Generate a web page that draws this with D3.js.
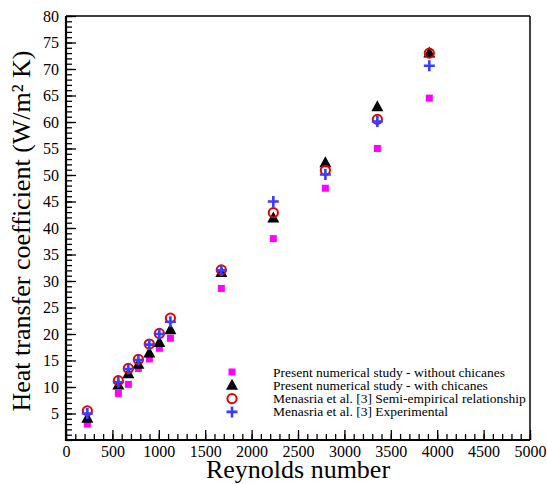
<!DOCTYPE html>
<html>
<head>
<meta charset="utf-8">
<script src="https://cdn.jsdelivr.net/npm/d3@7"></script>
<style>
  body { margin: 0; background: #fff; }
  text { font-family: "Liberation Serif", "Times New Roman", serif; }
</style>
</head>
<body>
<div id="chart"></div>
<script>
// Data
var reynolds = [230, 564, 672, 780, 898, 1006, 1125, 1674, 2234, 2795, 3355, 3915];
var withoutChicanes = [3.0, 8.8, 10.5, 13.5, 15.3, 17.3, 19.2, 28.6, 38.0, 47.5, 55.0, 64.5];
var withChicanes = [4.1, 10.4, 12.5, 14.3, 16.4, 18.4, 20.8, 31.6, 41.9, 52.3, 62.9, 73.0];
var semiEmpirical = [5.5, 11.2, 13.5, 15.2, 18.1, 20.1, 23.0, 32.1, 42.9, 50.9, 60.5, 73.0];
var experimental = [5.0, 10.9, 13.4, 15.1, 18.0, 20.0, 22.3, 32.0, 45.0, 50.1, 60.1, 70.6];

var seriesNames = [
  "Present numerical study - without chicanes",
  "Present numerical study - with chicanes",
  "Menasria et al. [3] Semi-empirical relationship",
  "Menasria et al. [3] Experimental"
];
var xTicks = d3.range(0, 5001, 500);
var yTicks = d3.range(5, 81, 5);

// Set up the chart
var svgWidth = 547;
var svgHeight = 484;
var margin = { top: 16, right: 17, bottom: 44, left: 66 };
var width = svgWidth - margin.left - margin.right;
var height = svgHeight - margin.top - margin.bottom;

var svg = d3.select("#chart")
  .append("svg")
  .attr("width", svgWidth)
  .attr("height", svgHeight);

var chartGroup = svg.append("g")
  .attr("transform", `translate(${margin.left}, ${margin.top})`);

// Scales
var xScale = d3.scaleLinear().domain([0, 5000]).range([0, width]);
var yScale = d3.scaleLinear().domain([0, 80]).range([height, 0]);

// Minor ticks (no labels)
chartGroup.append("g")
  .attr("transform", `translate(0, ${height})`)
  .call(d3.axisBottom(xScale).tickValues(d3.range(0, 5001, 100)).tickSize(-6).tickFormat(""))
  .call(g => g.select(".domain").remove())
  .call(g => g.selectAll("text").remove());
chartGroup.append("g")
  .call(d3.axisLeft(yScale).tickValues(d3.range(0, 81, 1)).tickSize(-6).tickFormat(""))
  .call(g => g.select(".domain").remove())
  .call(g => g.selectAll("text").remove());

// Major ticks with labels
var xAxis = chartGroup.append("g")
  .attr("transform", `translate(0, ${height})`)
  .call(d3.axisBottom(xScale).tickValues(xTicks).tickSize(-10).tickPadding(6).tickFormat(d3.format("d")));
xAxis.select(".domain").remove();
xAxis.selectAll("text").attr("font-size", 16).attr("fill", "#000");

var yAxis = chartGroup.append("g")
  .call(d3.axisLeft(yScale).tickValues(yTicks).tickSize(-10).tickPadding(7));
yAxis.select(".domain").remove();
yAxis.selectAll("text").attr("font-size", 16).attr("fill", "#000");

chartGroup.selectAll(".tick line").attr("stroke", "#000").attr("stroke-width", 1.3);

// Frame
chartGroup.append("line").attr("x1", 0).attr("x2", width).attr("y1", 0).attr("y2", 0)
  .attr("stroke", "#000").attr("stroke-width", 1.5);
chartGroup.append("line").attr("x1", width).attr("x2", width).attr("y1", 0).attr("y2", height)
  .attr("stroke", "#000").attr("stroke-width", 1.5);
chartGroup.append("line").attr("x1", 0).attr("x2", 0).attr("y1", 0).attr("y2", height + 1)
  .attr("stroke", "#000").attr("stroke-width", 2.2);
chartGroup.append("line").attr("x1", -1).attr("x2", width).attr("y1", height).attr("y2", height)
  .attr("stroke", "#000").attr("stroke-width", 2.2);

// Marker drawing helpers
function drawSquare(g) {
  g.append("rect").attr("x", -3.5).attr("y", -3.5).attr("width", 7).attr("height", 7)
    .attr("fill", "#ff00ff");
}
function drawTriangle(g) {
  g.append("path").attr("d", "M0,-6.5L6,4.5L-6,4.5Z").attr("fill", "#000");
}
function drawCircle(g) {
  g.append("circle").attr("r", 4.6).attr("fill", "none")
    .attr("stroke", "#e00000").attr("stroke-width", 2);
}
function drawCross(g) {
  g.append("path").attr("d", "M-5.5,0H5.5M0,-5.5V5.5")
    .attr("stroke", "#3c3cff").attr("stroke-width", 2.6);
}

var seriesList = [
  { values: withoutChicanes, draw: drawSquare },
  { values: withChicanes, draw: drawTriangle },
  { values: semiEmpirical, draw: drawCircle },
  { values: experimental, draw: drawCross }
];

// Points
seriesList.forEach(function(s) {
  chartGroup.append("g").selectAll("g")
    .data(reynolds.map((r, i) => ({ re: r, h: s.values[i] })))
    .enter()
    .append("g")
    .attr("transform", d => `translate(${xScale(d.re)}, ${yScale(d.h)})`)
    .each(function() { s.draw(d3.select(this)); });
});

// Legend
var legend = svg.append("g").attr("transform", "translate(232, 372)");
seriesList.forEach(function(s, i) {
  var row = legend.append("g").attr("transform", `translate(0, ${i * 13.3})`);
  s.draw(row);
  row.append("text")
    .attr("x", 41)
    .attr("y", 4.5)
    .attr("font-size", 13.5)
    .attr("fill", "#000")
    .text(seriesNames[i]);
});

// Axis titles
svg.append("text")
  .attr("x", margin.left + width / 2)
  .attr("y", 478)
  .attr("text-anchor", "middle")
  .attr("font-size", 26)
  .text("Reynolds number");

svg.append("text")
  .attr("transform", "translate(30, 231) rotate(-90)")
  .attr("text-anchor", "middle")
  .attr("font-size", 26)
  .text("Heat transfer coefficient (W/m² K)");
</script>
</body>
</html>
